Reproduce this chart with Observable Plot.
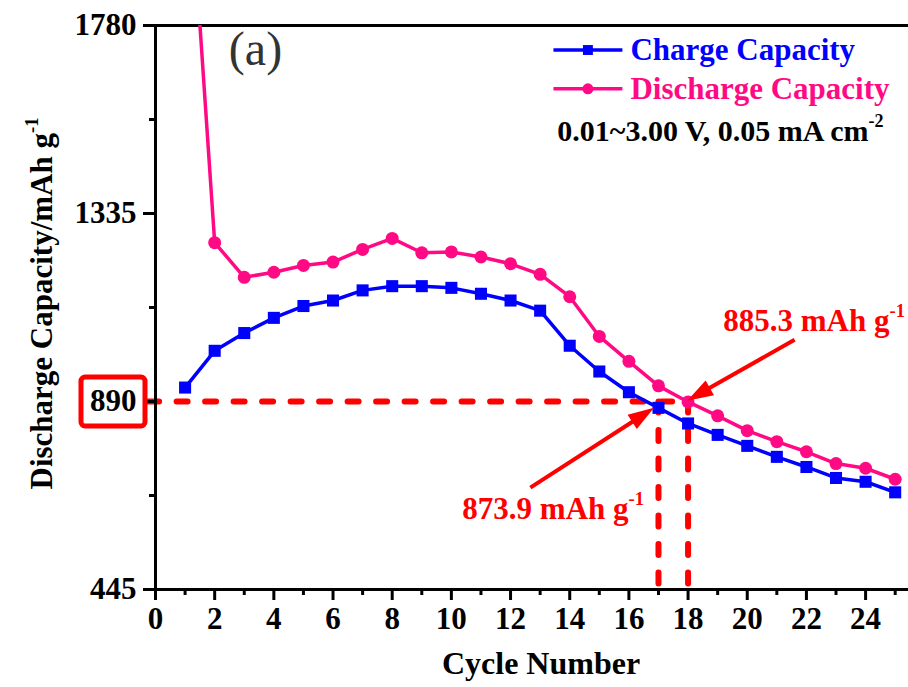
<!DOCTYPE html>
<html><head><meta charset="utf-8">
<script src="https://cdn.jsdelivr.net/npm/d3@7"></script>
<script src="https://cdn.jsdelivr.net/npm/@observablehq/plot@0.6"></script>
<style>html,body{margin:0;padding:0;background:#fff;}</style>
</head><body><div id="chart"></div>
<script>
// ---- data ----
const cycles = [1,2,3,4,5,6,7,8,9,10,11,12,13,14,15,16,17,18,19,20,21,22,23,24,25];
const chargeCapacity = [923,1010,1052,1088,1116,1129,1153,1163,1163,1159,1145,1129,1105,1022,961,912,875,838,811,785,759,735,709,700,675];
const dischargeCapacity = [2300,1266,1184,1196,1212,1220,1250,1276,1242,1244,1232,1216,1191,1138,1044,985,927,889,856,821,795,771,743,732,706];
const xMajorTicks = [0,2,4,6,8,10,12,14,16,18,20,22,24];
const xMinorTicks = [1,3,5,7,9,11,13,15,17,19,21,23,25];
const yMajorTicks = [445,890,1335,1780];
const yMinorTicks = [667.5,1112.5,1557.5];
const seriesNames = ["Charge Capacity","Discharge Capacity"];
const conditionText = "0.01~3.00 V, 0.05 mA cm^-2";
const panelLabel = "(a)";
const xTitle = "Cycle Number";
const yTitle = "Discharge Capacity/mAh g^-1";
const highlightValue = 890;
const markedCycles = [17,18];
const annotationTexts = ["885.3 mAh g^-1","873.9 mAh g^-1"];
const annotationX = [19.19,10.37];
const annotationY = [1081,636];
const arrowTailX = [21.6,12.67];
const arrowTailY = [1036,686];
const arrowTipX = [17.97,16.85];
const arrowTipY = [892,875];
const legendLineX = [13.45,15.78];
const legendY = [1722,1630];
const legendTextX = 16.05;
const conditionX = 13.58, conditionY = 1530;
const panelX = 3.38, panelY = 1722;

// ---- styles ----
const BLUE = "#0000ff", PINK = "#ff0a84", RED = "#ff0000";
const FONT = "'Liberation Serif','Times New Roman',serif";

const charge = cycles.map((c,i)=>({cycle:c, value:chargeCapacity[i]}));
const discharge = cycles.map((c,i)=>({cycle:c, value:dischargeCapacity[i]}));
const hGuide = [{x:-0.25,y:highlightValue},{x:markedCycles[1],y:highlightValue}];
const vGuide = markedCycles.flatMap(c=>[{id:c,x:c,y:highlightValue},{id:c,x:c,y:yMajorTicks[0]}]);

const headSymbol = {draw(ctx){const L=26,W=8.5;ctx.moveTo(0,0);ctx.lineTo(-W,L);ctx.lineTo(W,L);ctx.closePath();}};
const boxSymbol = {draw(ctx){const w=32,h=24.5,r=4;
  ctx.moveTo(-w+r,-h);ctx.lineTo(w-r,-h);ctx.arcTo(w,-h,w,-h+r,r);ctx.lineTo(w,h-r);ctx.arcTo(w,h,w-r,h,r);
  ctx.lineTo(-w+r,h);ctx.arcTo(-w,h,-w,h-r,r);ctx.lineTo(-w,-h+r);ctx.arcTo(-w,-h,-w+r,-h,r);ctx.closePath();}};

function options(marks){
  return {width:908,height:687,marginLeft:155,marginRight:0,marginTop:25,marginBottom:98,
    x:{domain:[0,25.45],label:null}, y:{domain:[445,1780],label:null},
    style:{fontFamily:FONT,fontWeight:"bold",background:"#fff",color:"#000",overflow:"visible"},
    marks};
}

const dataMarks = [
  Plot.line(hGuide,{x:"x",y:"y",stroke:RED,strokeWidth:6,strokeDasharray:"11,17.5",strokeLinecap:"round"}),
  Plot.line(vGuide,{x:"x",y:"y",z:"id",stroke:RED,strokeWidth:6,strokeDasharray:"11,17.5",strokeLinecap:"round"}),
  Plot.line(charge,{x:"cycle",y:"value",stroke:BLUE,strokeWidth:3.5,clip:true}),
  Plot.line(discharge,{x:"cycle",y:"value",stroke:PINK,strokeWidth:3.5,clip:true}),
  Plot.dot(charge,{x:"cycle",y:"value",symbol:"square",r:6.8,fill:BLUE,clip:true}),
  Plot.dot(discharge,{x:"cycle",y:"value",symbol:"circle",r:6.5,fill:PINK,clip:true})
];

// probe pass for scales
const probe = Plot.plot(options(dataMarks));
const sx = probe.scale("x"), sy = probe.scale("y");
const HEAD = 26;
const shaftX1=[],shaftY1=[],shaftX2=[],shaftY2=[],headRot=[];
arrowTipX.forEach((_,i)=>{
  const ax=sx.apply(arrowTailX[i]), ay=sy.apply(arrowTailY[i]);
  const bx=sx.apply(arrowTipX[i]), by=sy.apply(arrowTipY[i]);
  const len=Math.hypot(bx-ax,by-ay), ux=(bx-ax)/len, uy=(by-ay)/len;
  shaftX1.push(arrowTailX[i]); shaftY1.push(arrowTailY[i]);
  shaftX2.push(sx.invert(bx-ux*(HEAD-4))); shaftY2.push(sy.invert(by-uy*(HEAD-4)));
  headRot.push(Math.atan2(ux,-uy)*180/Math.PI);
});

const marks = [
  Plot.ruleY([yMajorTicks[yMajorTicks.length-1]],{strokeWidth:3}),
  ...dataMarks,
  // axes
  Plot.axisX({ticks:xMajorTicks,tickSize:11,tickPadding:6,fontSize:31,strokeWidth:3,tickFormat:d=>String(d),label:null}),
  Plot.axisX({ticks:xMinorTicks,tickSize:6,strokeWidth:3,tickFormat:()=>"",label:null}),
  Plot.axisY({ticks:yMajorTicks,tickSize:12,tickPadding:7,fontSize:31,strokeWidth:3,tickFormat:d=>String(d),label:null}),
  Plot.axisY({ticks:yMinorTicks,tickSize:6,strokeWidth:3,tickFormat:()=>"",label:null}),
  Plot.ruleX([0],{strokeWidth:3}),
  Plot.ruleY([yMajorTicks[0]],{strokeWidth:3}),
  // highlighted tick box
  Plot.dot([highlightValue],{x:()=>0,y:d=>d,dx:-42.5,symbol:boxSymbol,r:5,fill:"none",stroke:RED,strokeWidth:5}),
  // arrows
  Plot.link(arrowTipX,{x1:shaftX1,y1:shaftY1,x2:shaftX2,y2:shaftY2,stroke:RED,strokeWidth:4}),
  Plot.dot(arrowTipX,{x:arrowTipX,y:arrowTipY,rotate:headRot,symbol:headSymbol,r:5,fill:RED,stroke:"none"}),
  Plot.text(annotationTexts,{x:annotationX,y:annotationY,text:d=>d,textAnchor:"start",lineAnchor:"middle",fontSize:31,fill:RED}),
  // legend
  Plot.link([seriesNames[0]],{x1:[legendLineX[0]],x2:[legendLineX[1]],y1:[legendY[0]],y2:[legendY[0]],stroke:BLUE,strokeWidth:3.5}),
  Plot.link([seriesNames[1]],{x1:[legendLineX[0]],x2:[legendLineX[1]],y1:[legendY[1]],y2:[legendY[1]],stroke:PINK,strokeWidth:3.5}),
  Plot.dot([seriesNames[0]],{x:[(legendLineX[0]+legendLineX[1])/2],y:[legendY[0]],symbol:"square",r:5.6,fill:BLUE}),
  Plot.dot([seriesNames[1]],{x:[(legendLineX[0]+legendLineX[1])/2],y:[legendY[1]],symbol:"circle",r:5.5,fill:PINK}),
  Plot.text([seriesNames[0]],{x:[legendTextX],y:[legendY[0]],text:d=>d,textAnchor:"start",lineAnchor:"middle",fontSize:31,fill:BLUE}),
  Plot.text([seriesNames[1]],{x:[legendTextX],y:[legendY[1]],text:d=>d,textAnchor:"start",lineAnchor:"middle",fontSize:31,fill:PINK}),
  Plot.text([conditionText],{x:[conditionX],y:[conditionY],text:d=>d,textAnchor:"start",lineAnchor:"middle",fontSize:30,fill:"#000"}),
  Plot.text([panelLabel],{x:[panelX],y:[panelY],text:d=>d,textAnchor:"middle",lineAnchor:"middle",fontSize:48,fontWeight:"normal",fill:"#333"}),
  // titles
  Plot.text([xTitle],{frameAnchor:"bottom",dx:9,dy:84,text:d=>d,textAnchor:"middle",fontSize:32,fill:"#000"}),
  Plot.text([yTitle],{frameAnchor:"left",dx:-113,dy:-4,rotate:-90,text:d=>d,textAnchor:"middle",lineAnchor:"middle",fontSize:31,fill:"#000"})
];

const svg = Plot.plot(options(marks));
// superscripts written as "base^sup"
d3.select(svg).selectAll("text").each(function(){
  const s = this.textContent;
  if (!s.includes("^") || this.querySelector("tspan")) return;
  const [base, sup] = s.split("^");
  this.textContent = "";
  const t = d3.select(this);
  t.append("tspan").text(base);
  t.append("tspan").attr("dy","-0.75em").attr("font-size","0.6em").text(sup);
});
document.getElementById("chart").appendChild(svg);
</script></body></html>
